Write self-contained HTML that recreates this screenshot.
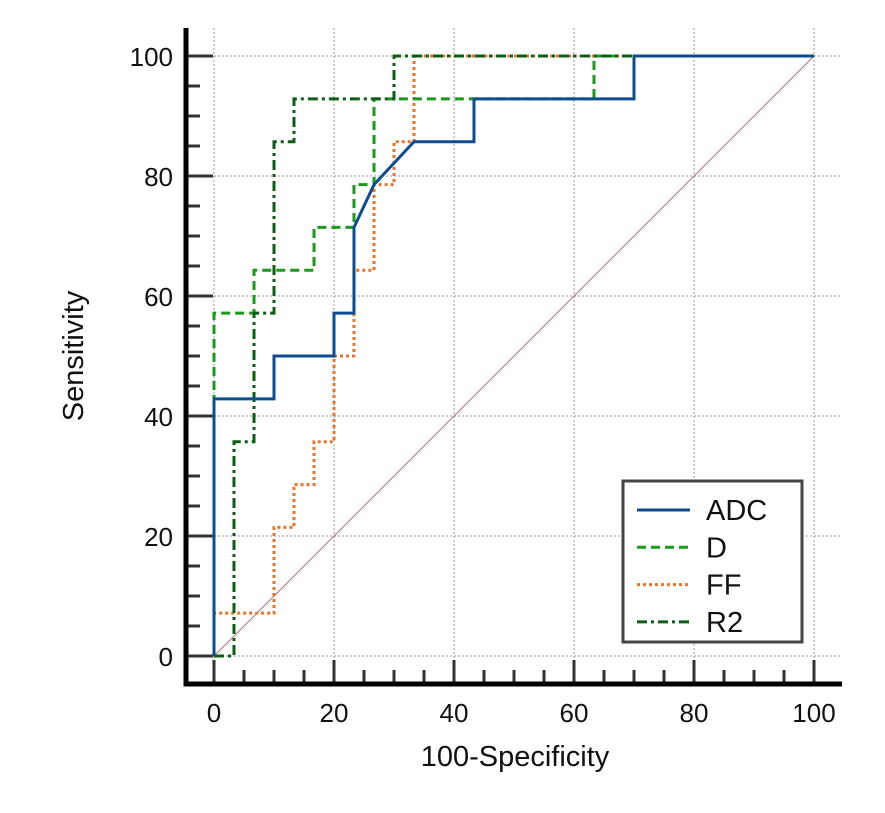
<!DOCTYPE html>
<html><head><meta charset="utf-8"><style>body{margin:0;background:#fff}svg text{font-family:"Liberation Sans",sans-serif}</style></head>
<body>
<svg id="c" width="885" height="808" xmlns="http://www.w3.org/2000/svg"></svg>
<script>
const xTicks=[0,20,40,60,80,100];
const yTicks=[0,20,40,60,80,100];
const seriesNames=["ADC","D","FF","R2"];
const adcX=[0,0,10,10,20,20,23.33,23.33,26.67,33.33,43.33,43.33,70,70,100];
const adcY=[0,42.86,42.86,50,50,57.14,57.14,71.43,78.57,85.71,85.71,92.86,92.86,100,100];
const dX=[0,0,6.67,6.67,16.67,16.67,23.33,23.33,26.67,26.67,63.33,63.33,100];
const dY=[0,57.14,57.14,64.29,64.29,71.43,71.43,78.57,78.57,92.86,92.86,100,100];
const ffX=[0,0,10,10,13.33,13.33,16.67,16.67,20,20,23.33,23.33,26.67,26.67,30,30,33.33,33.33,100];
const ffY=[0,7.14,7.14,21.43,21.43,28.57,28.57,35.71,35.71,50,50,64.29,64.29,78.57,78.57,85.71,85.71,100,100];
const r2X=[0,3.33,3.33,6.67,6.67,10,10,13.33,13.33,30,30,100];
const r2Y=[0,0,35.71,35.71,57.14,57.14,85.71,85.71,92.86,92.86,100,100];

const sx=v=>214+v*6, sy=v=>656-v*6;
const svg=document.getElementById('c');
const NS='http://www.w3.org/2000/svg';
function mk(t,a,p){const e=document.createElementNS(NS,t);for(const k in a)e.setAttribute(k,a[k]);(p||svg).appendChild(e);return e;}
for(let v=0;v<=100;v+=20){
 let g=mk('line',{x1:sx(v),x2:sx(v),y1:28,y2:684,stroke:'#999','stroke-width':1,'stroke-dasharray':'2,2'});
 
 let h=mk('line',{x1:186,x2:842,y1:sy(v),y2:sy(v),stroke:'#999','stroke-width':1,'stroke-dasharray':'2,2'});
 
}
let dg=mk('line',{x1:sx(0),y1:sy(0),x2:sx(100),y2:sy(100),stroke:'#b07080','stroke-width':1});

for(let v=0;v<=100;v+=5){
 const maj=v%20===0;
 let t=mk('line',{x1:sx(v),x2:sx(v),y1:maj?660:670,y2:684,stroke:'#333','stroke-width':3});
 
}
for(let v=0;v<=100;v+=5){
 const maj=v%20===0;
 let t=mk('line',{x1:186,x2:maj?213:200,y1:sy(v),y2:sy(v),stroke:'#333','stroke-width':3});
 
}
xTicks.forEach(v=>{let t=mk('text',{x:sx(v),y:722,'font-size':26,'text-anchor':'middle',fill:'#111'});t.textContent=v;
 });
yTicks.forEach(v=>{let t=mk('text',{x:173,y:sy(v)+10,'font-size':26,'text-anchor':'end',fill:'#111'});t.textContent=v;
 });
let ax=mk('path',{d:'M186,28 V684 H842',fill:'none',stroke:'#000','stroke-width':5});

let xt=mk('text',{x:515,y:766,'font-size':29,'text-anchor':'middle',fill:'#111'});xt.textContent='100-Specificity';

let yt=mk('text',{x:0,y:0,'font-size':29,'text-anchor':'middle',fill:'#111',transform:'translate(83,356) rotate(-90)'});yt.textContent='Sensitivity';

const styles=[{c:'#0d4c8f',d:''},{c:'#1a9a1a',d:'9,5'},{c:'#e8742a',d:'3,3'},{c:'#0b5e14',d:'10,4,3,4'}];
const data=[[adcX,adcY],[dX,dY],[ffX,ffY],[r2X,r2Y]];
const order=[2,1,3,0];
order.forEach(i=>{
 const [X,Y]=data[i];
 const d=X.map((x,j)=>(j?'L':'M')+sx(x)+','+sy(Y[j])).join(' ');
 let p=mk('path',{d:d,fill:'none',stroke:styles[i].c,'stroke-width':3,'stroke-dasharray':styles[i].d});
 
 
});
let lg=mk('rect',{x:623,y:481,width:179,height:161,fill:'#fff',stroke:'#444','stroke-width':3});

seriesNames.forEach((n,i)=>{
 const y=510+i*37.3;
 let l=mk('line',{x1:637,x2:690,y1:y,y2:y,stroke:styles[i].c,'stroke-width':3,'stroke-dasharray':styles[i].d});
 
 let t=mk('text',{x:706,y:y+10,'font-size':29,fill:'#111'});t.textContent=n;
 
});
</script>
</body></html>
